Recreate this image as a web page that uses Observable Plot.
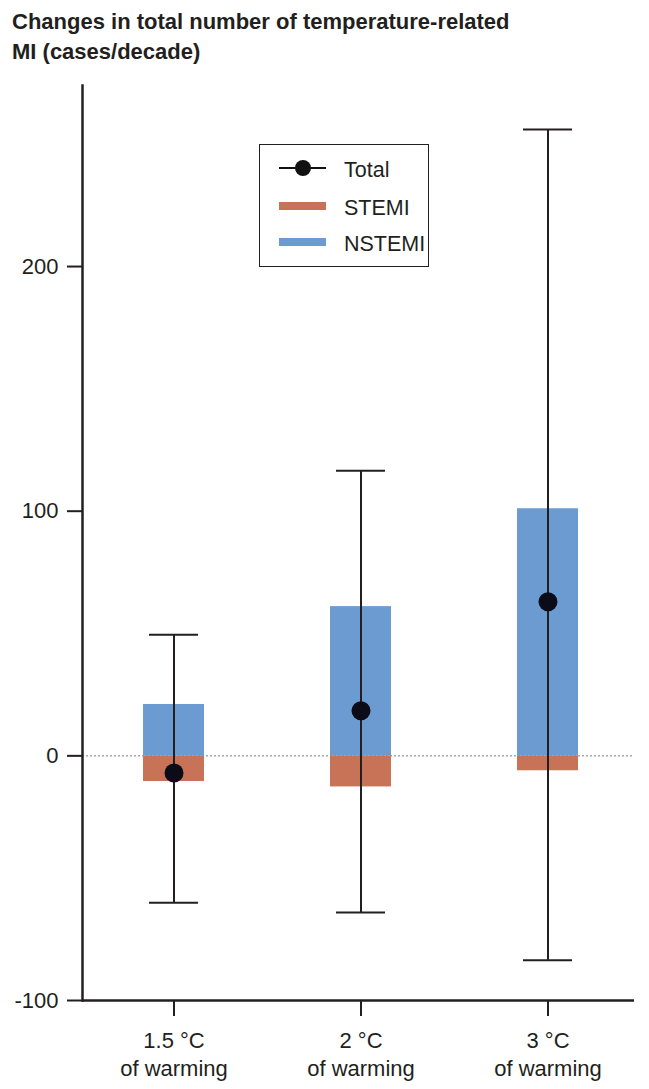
<!DOCTYPE html>
<html>
<head>
<meta charset="utf-8">
<script src="https://cdn.jsdelivr.net/npm/d3@7"></script>
<script src="https://cdn.jsdelivr.net/npm/@observablehq/plot@0.6"></script>
<style>
  html, body { margin: 0; padding: 0; background: #fff; }
  #wrap { position: relative; width: 649px; height: 1089px; font-family: "Liberation Sans", Arial, sans-serif; color: #231f20; }
  #title { height: 70px; box-sizing: border-box; padding: 7px 0 0 12px; font-weight: bold; font-size: 22px; line-height: 30px; }
  #legend { position: absolute; left: 259px; top: 144px; width: 170px; height: 123px; box-sizing: border-box; border: 1.5px solid #231f20; background: #fff; }
  #legend .t { position: absolute; left: 84px; font-size: 21.5px; line-height: 22px; white-space: nowrap; }
  #legend .sw { position: absolute; left: 19px; width: 47px; height: 8px; }
  #legend .ln { position: absolute; left: 19px; width: 47px; height: 2px; background: #111; }
  #legend .dt { position: absolute; width: 16px; height: 16px; border-radius: 50%; background: #111; }
</style>
</head>
<body>
<div id="wrap">
  <div id="title">Changes in total number of temperature-related<br>MI (cases/decade)</div>
  <div id="chart"></div>
  <div id="legend"></div>
</div>
<script>
// ---- data ----
const categories = ["1.5 °C", "2 °C", "3 °C"];
const nstemi = [21, 61, 101];
const stemi = [-10.5, -12.7, -6.1];
const total = [-7, 18.4, 63];
const lower = [-60, -64, -83.5];
const upper = [49.5, 116.5, 256];
const yTicks = [-100, 0, 100, 200];
const seriesNames = ["Total", "STEMI", "NSTEMI"];
const colors = {STEMI: "#c87257", NSTEMI: "#6b9bd0", Total: "#0c0b18"};

const rows = categories.map((c, i) => ({
  cat: c, nstemi: nstemi[i], stemi: stemi[i], total: total[i], lower: lower[i], upper: upper[i]
}));

const chart = Plot.plot({
  width: 649,
  height: 1019,
  marginLeft: 82,
  marginRight: 15,
  marginTop: 15,
  marginBottom: 89,
  style: {fontFamily: "Liberation Sans, Arial, sans-serif", fontSize: "21px", color: "#231f20", background: "#fff"},
  x: {type: "band", domain: categories, paddingInner: 0.6755, paddingOuter: 0.31, align: 0.516, axis: null},
  y: {domain: [-100, 274], axis: null},
  marks: [
    Plot.ruleY([0], {stroke: "#7a7a7a", strokeWidth: 1, strokeDasharray: "2,2"}),
    Plot.barY(rows, {x: "cat", y1: 0, y2: "nstemi", fill: colors.NSTEMI}),
    Plot.barY(rows, {x: "cat", y1: 0, y2: "stemi", fill: colors.STEMI}),
    Plot.ruleX(rows, {x: "cat", y1: "lower", y2: "upper", stroke: "#231f20", strokeWidth: 2}),
    Plot.tickY(rows, {x: "cat", y: "upper", stroke: "#231f20", strokeWidth: 2, insetLeft: 6, insetRight: 6}),
    Plot.tickY(rows, {x: "cat", y: "lower", stroke: "#231f20", strokeWidth: 2, insetLeft: 6, insetRight: 6}),
    Plot.dot(rows, {x: "cat", y: "total", r: 9.5, fill: colors.Total, stroke: null}),
    Plot.axisY({ticks: yTicks, tickSize: 15, tickPadding: 9, tickFormat: d => String(d), strokeWidth: 2, fontSize: 22, label: null}),
    Plot.axisX({tickSize: 16, tickPadding: 12, tickFormat: d => d + "\nof warming", strokeWidth: 2, fontSize: 22, lineHeight: 1.27, label: null}),
    Plot.ruleY([-100], {stroke: "#231f20", strokeWidth: 2.5}),
    Plot.frame({anchor: "left", stroke: "#231f20", strokeWidth: 2.5})
  ]
});
document.getElementById("chart").appendChild(chart);

// ---- legend (overlay inside plot area) ----
const lg = document.getElementById("legend");
const rowY = [23, 61, 97]; // row centre lines, px from legend box top
seriesNames.forEach((name, i) => {
  const y = rowY[i];
  if (name === "Total") {
    const ln = document.createElement("div"); ln.className = "ln"; ln.style.top = (y - 1) + "px"; lg.appendChild(ln);
    const dt = document.createElement("div"); dt.className = "dt"; dt.style.left = (43 - 8) + "px"; dt.style.top = (y - 8) + "px"; lg.appendChild(dt);
  } else {
    const sw = document.createElement("div"); sw.className = "sw"; sw.style.top = (y - 4) + "px"; sw.style.background = colors[name]; lg.appendChild(sw);
  }
  const t = document.createElement("div"); t.className = "t"; t.textContent = name; t.style.top = (y - 9) + "px"; lg.appendChild(t);
});
</script>
</body>
</html>
